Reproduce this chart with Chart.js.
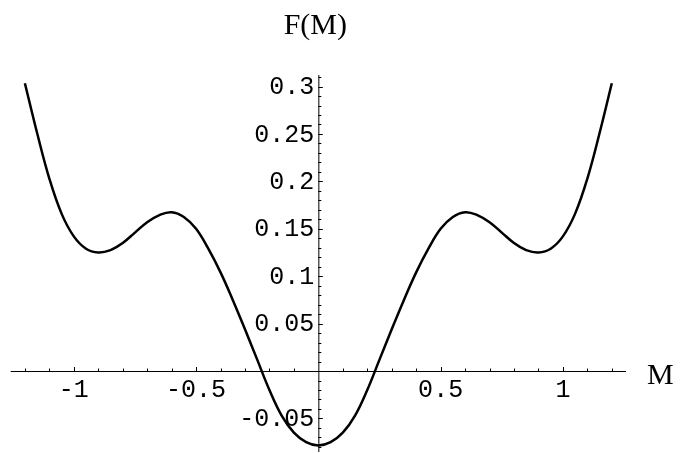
<!DOCTYPE html>
<html>
<head>
<meta charset="utf-8">
<script src="https://cdn.jsdelivr.net/npm/chart.js@4.4.1/dist/chart.umd.min.js"></script>
<style>
  html, body { margin: 0; padding: 0; background: #ffffff; }
  #wrap { width: 680px; height: 453px; }
</style>
</head>
<body>
<div id="wrap"><canvas id="fChart" width="680" height="453"></canvas></div>
<script>
// values
const mValues = [
  -1.2, -1.15, -1.1, -1.05, -1.0, -0.95, -0.9, -0.85, -0.8, -0.75, -0.7, -0.65,
  -0.6, -0.55, -0.5, -0.45, -0.4, -0.35, -0.3, -0.25, -0.2, -0.15, -0.1, -0.05,
  0,
  0.05, 0.1, 0.15, 0.2, 0.25, 0.3, 0.35, 0.4, 0.45, 0.5, 0.55, 0.6,
  0.65, 0.7, 0.75, 0.8, 0.85, 0.9, 0.95, 1.0, 1.05, 1.1, 1.15, 1.2
];
const fValues = [
  0.3035, 0.251, 0.203, 0.166, 0.142, 0.129, 0.125, 0.1275, 0.135, 0.146, 0.157, 0.1645,
  0.1675, 0.1625, 0.15, 0.129, 0.104, 0.075, 0.044, 0.012, -0.02, -0.047, -0.065, -0.075,
  -0.0785,
  -0.075, -0.065, -0.047, -0.02, 0.012, 0.044, 0.075, 0.104, 0.129, 0.15, 0.1625, 0.1675,
  0.1645, 0.157, 0.146, 0.135, 0.1275, 0.125, 0.129, 0.142, 0.166, 0.203, 0.251, 0.3035
];
const xTickLabels = [-1, -0.5, 0.5, 1];
const yTickLabels = [-0.05, 0.05, 0.1, 0.15, 0.2, 0.25, 0.3];
const xMinorTicks = [-1.2, -1.1, -0.9, -0.8, -0.7, -0.6, -0.4, -0.3, -0.2, -0.1,
                     0.1, 0.2, 0.3, 0.4, 0.6, 0.7, 0.8, 0.9, 1.1, 1.2];
const yMinorTicks = [-0.08, -0.07, -0.06, -0.04, -0.03, -0.02, -0.01,
                     0.01, 0.02, 0.03, 0.04, 0.06, 0.07, 0.08, 0.09,
                     0.11, 0.12, 0.13, 0.14, 0.16, 0.17, 0.18, 0.19,
                     0.21, 0.22, 0.23, 0.24, 0.26, 0.27, 0.28, 0.29, 0.31];

const points = mValues.map((m, i) => ({ x: m, y: fValues[i] }));

// axes crossing at the origin, drawn from the chart's own scales
const crossAxes = {
  id: 'crossAxes',
  beforeDatasetsDraw(chart) {
    const ctx = chart.ctx;
    const xs = chart.scales.x;
    const ys = chart.scales.y;
    const x0 = xs.getPixelForValue(0);
    const y0 = ys.getPixelForValue(0);
    const area = chart.chartArea;

    ctx.save();
    ctx.strokeStyle = '#000';
    ctx.lineWidth = 1;
    ctx.beginPath();
    ctx.moveTo(area.left, y0 + 0.5);
    ctx.lineTo(area.right, y0 + 0.5);
    ctx.moveTo(x0 + 0.5, area.top);
    ctx.lineTo(x0 + 0.5, area.bottom);

    xTickLabels.forEach(v => {
      const px = Math.round(xs.getPixelForValue(v)) + 0.5;
      ctx.moveTo(px, y0);
      ctx.lineTo(px, y0 - 4);
    });
    xMinorTicks.forEach(v => {
      const px = Math.round(xs.getPixelForValue(v)) + 0.5;
      ctx.moveTo(px, y0);
      ctx.lineTo(px, y0 - 2.5);
    });
    yTickLabels.forEach(v => {
      const py = Math.round(ys.getPixelForValue(v)) + 0.5;
      ctx.moveTo(x0, py);
      ctx.lineTo(x0 + 4.5, py);
    });
    yMinorTicks.forEach(v => {
      const py = Math.round(ys.getPixelForValue(v)) + 0.5;
      ctx.moveTo(x0, py);
      ctx.lineTo(x0 + 3, py);
    });
    ctx.stroke();

    ctx.fillStyle = '#000';
    ctx.font = '25px "Liberation Mono", monospace';
    ctx.textAlign = 'center';
    ctx.textBaseline = 'middle';
    xTickLabels.forEach(v => {
      ctx.fillText(String(v), xs.getPixelForValue(v), y0 + 19);
    });
    ctx.textAlign = 'right';
    yTickLabels.forEach(v => {
      ctx.fillText(String(v), x0 - 4, ys.getPixelForValue(v) + 1);
    });

    ctx.font = '30px "Liberation Serif", "Times New Roman", serif';
    ctx.textAlign = 'center';
    ctx.textBaseline = 'alphabetic';
    ctx.fillText('F(M)', x0 - 3, 34);
    ctx.textAlign = 'left';
    ctx.fillText('M', 647, y0 + 13);
    ctx.restore();
  }
};

const chartInstance = new Chart(document.getElementById('fChart').getContext('2d'), {
  type: 'line',
  data: {
    datasets: [{
      label: 'F(M)',
      data: points,
      borderColor: '#000000',
      borderWidth: 2.5,
      pointRadius: 0,
      fill: false,
      tension: 0.4,
      clip: false
    }]
  },
  options: {
    responsive: false,
    animation: false,
    events: [],
    layout: { padding: { left: 10.7, right: 54, top: 75, bottom: 1 } },
    plugins: {
      legend: { display: false },
      tooltip: { enabled: false }
    },
    scales: {
      x: { type: 'linear', min: -1.258, max: 1.258, display: false },
      y: { type: 'linear', min: -0.0854, max: 0.3122, display: false }
    }
  },
  plugins: [crossAxes]
});
</script>
</body>
</html>
